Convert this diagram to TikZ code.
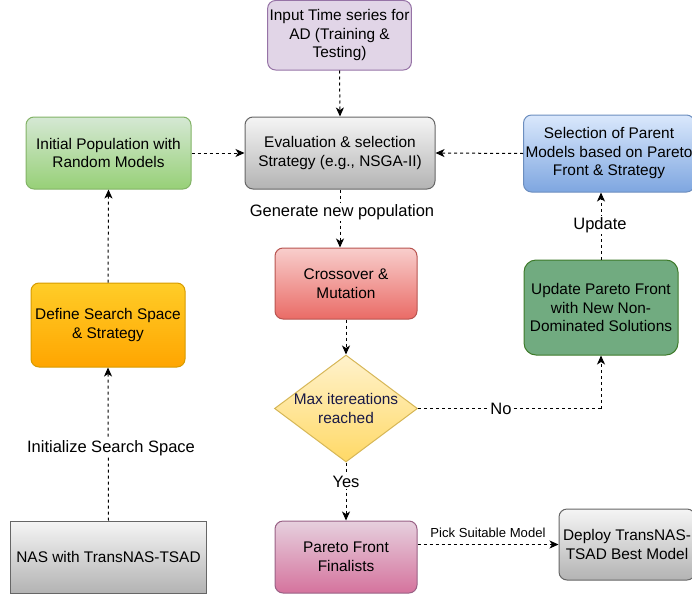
\documentclass[tikz,border=0pt]{standalone}
\usepackage{fontspec}
\setmainfont{Liberation Sans}
\usetikzlibrary{shapes.geometric,arrows.meta}
\definecolor{grT}{HTML}{D5E8D4}\definecolor{grB}{HTML}{97D077}\definecolor{grS}{HTML}{82B366}
\definecolor{blT}{HTML}{DAE8FC}\definecolor{blB}{HTML}{7EA6E0}\definecolor{blS}{HTML}{6C8EBF}
\definecolor{rdT}{HTML}{F8CECC}\definecolor{rdB}{HTML}{EA6B66}\definecolor{rdS}{HTML}{B85450}
\definecolor{orT}{HTML}{FFCD28}\definecolor{orB}{HTML}{FFA500}\definecolor{orS}{HTML}{D79B00}
\definecolor{gyT}{HTML}{F5F5F5}\definecolor{gyB}{HTML}{B3B3B3}\definecolor{gyS}{HTML}{666666}
\definecolor{pkT}{HTML}{E6D0DE}\definecolor{pkB}{HTML}{D5739D}\definecolor{pkS}{HTML}{996185}
\definecolor{puF}{HTML}{E1D5E7}\definecolor{puS}{HTML}{9673A6}
\definecolor{yeT}{HTML}{FFF2CC}\definecolor{yeB}{HTML}{FFD966}\definecolor{yeS}{HTML}{D6B656}
\definecolor{upF}{RGB}{113,171,128}\definecolor{upS}{RGB}{62,122,42}
\definecolor{diaTxt}{RGB}{25,25,70}
\begin{document}
\begin{tikzpicture}[x=1pt,y=-1pt,
  box/.style={rounded corners=8pt, line width=1pt, align=center, inner sep=2pt,
    font={\fontsize{15.4}{18.5}\selectfont}},
  lab/.style={fill=white, inner sep=1pt, font={\fontsize{16.5}{19}\selectfont}},
  arr/.style={line width=1pt, dash pattern=on 3pt off 3pt, -{Stealth[length=9pt,width=8pt,inset=2.5pt]}},
  ln/.style={line width=1pt, dash pattern=on 3pt off 3pt}]
\useasboundingbox (0,0) rectangle (692,594);

\node[box, fill=puF, draw=puS, minimum width=143pt, minimum height=69.5pt] (inp) at (339.5,35.25) {Input Time series for\\AD (Training \&\\Testing)};
\node[box, top color=gyT, bottom color=gyB, draw=gyS, minimum width=190pt, minimum height=72pt] (eval) at (340,153) {Evaluation \& selection\\Strategy (e.g., NSGA-II)};
\node[box, top color=grT, bottom color=grB, draw=grS, minimum width=165pt, minimum height=72pt] (init) at (108.5,153) {Initial Population with\\Random Models};
\node[box, top color=blT, bottom color=blB, draw=blS, minimum width=170pt, minimum height=77pt] (sel) at (609,153.5) {Selection of Parent\\Models based on Pareto\\Front \& Strategy};
\node[box, top color=rdT, bottom color=rdB, draw=rdS, minimum width=142pt, minimum height=71pt] (cross) at (346,283.5) {Crossover \&\\Mutation};
\node[box, top color=orT, bottom color=orB, draw=orS, minimum width=154pt, minimum height=84pt] (def) at (108,325) {Define Search Space\\\& Strategy};
\node[box, rounded corners=12pt, fill=upF, draw=upS, minimum width=154pt, minimum height=95pt] (upd) at (601,307.5) {Update Pareto Front\\with New Non-\\Dominated Solutions};
\node[diamond, top color=yeT, bottom color=yeB, draw=yeS, line width=1pt, minimum width=143pt, minimum height=107pt, inner sep=0pt] (dia) at (346,408.5) {};
\node[align=center, text=diaTxt, font={\fontsize{15.4}{18.5}\selectfont}] (diat) at (dia.center) {Max itereations\\reached};
\node[box, top color=pkT, bottom color=pkB, draw=pkS, minimum width=142pt, minimum height=72pt] (par) at (346,557) {Pareto Front\\Finalists};
\node[box, top color=gyT, bottom color=gyB, draw=gyS, minimum width=136pt, minimum height=71pt] (dep) at (627,544.5) {Deploy TransNAS-\\TSAD Best Model};
\node[box, rounded corners=0pt, top color=gyT, bottom color=gyB, draw=gyS, minimum width=196pt, minimum height=72pt] (nas) at (108.5,557) {NAS with TransNAS-TSAD};

\draw[arr] (inp.south) -- (eval.north);
\draw[arr] (init.east) -- (eval.west);
\draw[arr] (sel.west) -- (eval.east);
\draw[arr] (eval.south) -- (eval.south |- cross.north);
\node[lab] (lgen) at (342,212) {Generate new population};
\draw[arr] (cross.south) -- (dia.north);
\draw[arr] (dia.south) -- (par.north);
\node[lab] (lyes) at (346,482) {Yes};
\coordinate (nocorner) at (upd.south |- dia.east);
\draw[ln] (dia.east) -- (nocorner);
\draw[arr] (nocorner) -- (upd.south);
\node[lab] (lno) at (501,409) {No};
\draw[arr] (upd.north) -- (upd.north |- sel.south);
\node[lab] (lupd) at (600,225) {Update};
\draw[arr] (def.north) -- (init.south);
\draw[arr] (nas.north) -- (def.south);
\node[lab] (linit) at (111,448) {Initialize Search Space};
\draw[arr] (par.east |- dep.west) -- (dep.west);
\node[font={\fontsize{13.1}{15}\selectfont}] (lpick) at (488,533) {Pick Suitable Model};
\end{tikzpicture}
\end{document}
